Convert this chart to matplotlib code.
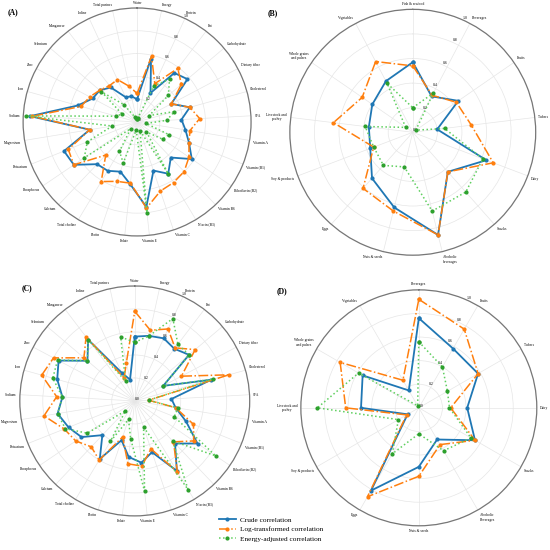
import numpy as np
import matplotlib.pyplot as plt

plt.rcParams['font.family'] = ['Liberation Serif', 'DejaVu Serif']

# ---- data ----
nutrients = ["Water", "Energy", "Protein", "Fat", "Carbohydrate", "Dietary fiber",
             "Cholesterol", "SFA", "Vitamin A", "Vitamin (B1)", "Riboflavin (B2)",
             "Vitamin B6", "Niacin (B3)", "Vitamin C", "Vitamin E", "Folate", "Biotin",
             "Total choline", "Calcium", "Phosphorus", "Potassium", "Magnesium",
             "Sodium", "Iron", "Zinc", "Selenium", "Manganese", "Iodine", "Total purines"]

a_crude = [0.20, 0.57, 0.28, 0.54, 0.58, 0.34, 0.48, 0.39, 0.43, 0.49, 0.58, 0.43, 0.53, 0.45,
           0.75, 0.55, 0.46, 0.50, 0.51, 0.67, 0.69, 0.42, 0.94, 0.54, 0.44, 0.43, 0.38, 0.24, 0.23]
a_log = [0.25, 0.59, 0.37, 0.59, 0.51, 0.34, 0.48, 0.55, 0.47, 0.49, 0.55, 0.60, 0.62, 0.64,
         0.76, 0.54, 0.55, 0.61, 0.40, 0.67, 0.65, 0.42, 0.92, 0.51, 0.47, 0.43, 0.40, 0.41, 0.32]
a_energy = [0.03, 0.04, 0.35, 0.47, 0.36, 0.12, 0.34, 0.26, 0.08, 0.30, 0.27, 0.12, 0.53, 0.08,
            0.80, 0.07, 0.38, 0.30, 0.08, 0.56, 0.47, 0.22, 0.98, 0.19, 0.15, 0.41, 0.19, 0.05, 0.04]

foods_b = ["Fish & seafood", "Beverages", "Fruits", "Tubers", "Dairy", "Snacks",
           "Alcoholic\nbeverages", "Nuts & seeds", "Eggs", "Soy & products",
           "Livestock and\npoultry", "Whole grains\nand pulses", "Vegetables"]
b_crude = [0.57, 0.33, 0.45, 0.20, 0.64, 0.43, 0.86, 0.63, 0.50, 0.37, 0.36, 0.40, 0.47]
b_log = [0.54, 0.34, 0.43, 0.48, 0.70, 0.43, 0.86, 0.66, 0.61, 0.34, 0.65, 0.50, 0.65]
b_energy = [0.20, 0.36, 0.03, 0.26, 0.61, 0.65, 0.66, 0.29, 0.36, 0.34, 0.39, 0.07, 0.45]

c_crude = [0.56, 0.58, 0.60, 0.57, 0.62, 0.28, 0.69, 0.32, 0.36, 0.48, 0.66, 0.51, 0.71, 0.47,
           0.54, 0.49, 0.36, 0.59, 0.41, 0.56, 0.62, 0.68, 0.63, 0.70, 0.75, 0.54, 0.67, 0.27, 0.19]
c_log = [0.78, 0.63, 0.69, 0.58, 0.69, 0.46, 0.85, 0.12, 0.36, 0.55, 0.62, 0.49, 0.72, 0.44,
         0.57, 0.55, 0.33, 0.60, 0.55, 0.62, 0.66, 0.80, 0.68, 0.84, 0.80, 0.58, 0.70, 0.22, 0.34]
c_energy = [0.51, 0.58, 0.79, 0.62, 0.62, 0.28, 0.71, 0.12, 0.38, 0.37, 0.85, 0.48, 0.90, 0.24,
            0.79, 0.33, 0.17, 0.41, 0.12, 0.50, 0.65, 0.68, 0.63, 0.74, 0.76, 0.54, 0.67, 0.19, 0.57]

foods_d = ["Beverages", "Fruits", "Tubers", "Dairy", "Snacks", "Alcoholic\nBeverages",
           "Nuts & seeds", "Eggs", "Soy & products", "Livestock and\npoultry",
           "Whole grains\nand pulses", "Vegetables"]
d_crude = [0.76, 0.58, 0.58, 0.41, 0.55, 0.31, 0.50, 0.81, 0.11, 0.49, 0.55, 0.17]
d_log = [0.92, 0.77, 0.58, 0.27, 0.55, 0.36, 0.58, 0.87, 0.12, 0.62, 0.77, 0.27]
d_energy = [0.56, 0.40, 0.28, 0.26, 0.51, 0.42, 0.22, 0.45, 0.20, 0.86, 0.59, 0.02]

series_names = ["Crude correlation", "Log-transformed correlation", "Energy-adjusted correlation"]


def radar(ax, cats, crude, logt, energy):
    n = len(cats)
    ang = np.linspace(0, 2 * np.pi, n, endpoint=False)
    ang_c = np.append(ang, ang[0])
    ax.set_theta_zero_location("N")
    ax.set_theta_direction(-1)
    ax.set_ylim(0, 1.0)
    styles = [
        dict(color="#1f77b4", ls="-", lw=1.3, marker="o", ms=2.0, mfc="#1f77b4", mec="#1f77b4"),
        dict(color="#ff7f0e", ls="-.", lw=1.1, marker="o", ms=2.0, mfc="#ff7f0e", mec="#ff7f0e"),
        dict(color="#5fcf5f", ls=":", lw=1.1, marker="o", ms=2.0, mfc="#2ca02c", mec="#2ca02c"),
    ]
    lines = []
    for vals, st, nm in zip([crude, logt, energy], styles, series_names):
        v = np.append(vals, vals[0])
        ln, = ax.plot(ang_c, v, label=nm, **st)
        lines.append(ln)
    ax.set_xticks(ang)
    ax.set_xticklabels([])
    # category labels just outside the outer circle
    for a, lab in zip(ang, cats):
        s, c = np.sin(a), np.cos(a)
        ha = "center" if abs(s) < 0.15 else ("left" if s > 0 else "right")
        va = "center" if abs(c) < 0.15 else ("bottom" if c > 0 else "top")
        ax.text(a, 1.03, lab, ha=ha, va=va, fontsize=2.6, multialignment="center")
    ax.set_yticks([0, 0.2, 0.4, 0.6, 0.8, 1.0])
    ax.set_yticklabels(["0.0", "0.2", "0.4", "0.6", "0.8", "1.0"], fontsize=2.8)
    ax.set_rlabel_position(24)
    ax.grid(color="#e6e6e6", lw=0.5)
    ax.spines["polar"].set_color("#777777")
    ax.spines["polar"].set_linewidth(0.9)
    return lines


fig = plt.figure(figsize=(5.5, 5.5), dpi=100)
axA = fig.add_axes([0.042, 0.571, 0.4145, 0.4145], projection="polar")
axB = fig.add_axes([0.527, 0.536, 0.447, 0.447], projection="polar")
axC = fig.add_axes([0.036, 0.062, 0.418, 0.418], projection="polar")
axD = fig.add_axes([0.547, 0.044, 0.429, 0.429], projection="polar")

lines = radar(axA, nutrients, a_crude, a_log, a_energy)
radar(axB, foods_b, b_crude, b_log, b_energy)
radar(axC, nutrients, c_crude, c_log, c_energy)
radar(axD, foods_d, d_crude, d_log, d_energy)

fig.text(8 / 550, 1 - 14 / 550, "(A)", fontsize=5.5, fontweight="bold")
fig.text(268 / 550, 1 - 15 / 550, "(B)", fontsize=5.5, fontweight="bold")
fig.text(22 / 550, 1 - 290 / 550, "(C)", fontsize=5.5, fontweight="bold")
fig.text(277 / 550, 1 - 293 / 550, "(D)", fontsize=5.5, fontweight="bold")

fig.legend(handles=lines, loc="upper left", bbox_to_anchor=(216 / 550, 1 - 514 / 550),
           frameon=False, fontsize=5.2, handlelength=2.3, labelspacing=0.45,
           borderaxespad=0, handletextpad=0.6)

fig.savefig("out.png", dpi=100)
